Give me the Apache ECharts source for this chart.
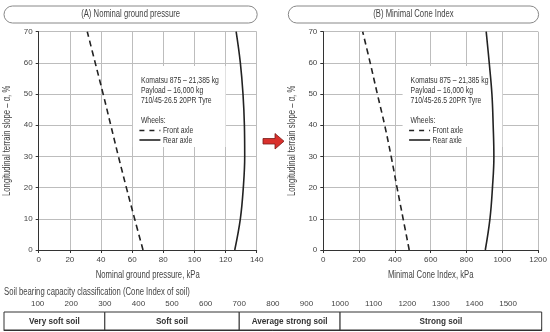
<!DOCTYPE html>
<html>
<head>
<meta charset="utf-8">
<script src="https://cdn.jsdelivr.net/npm/echarts@6/dist/echarts.min.js"></script>
<style>html,body{margin:0;padding:0;background:#fff}#c{width:550px;height:332px}</style>
</head>
<body>
<div id="c"></div>
<script>
// ---- data ----
var slope = [0, 10, 20, 30, 40, 50, 60, 70];
var ngpFront = [67, 61.6, 56.3, 51.2, 46.3, 41.4, 36.3, 31.2];
var ngpRear = [125.9, 129.5, 131.4, 132.3, 132.1, 131.2, 129.5, 126.8];
var mciFront = [480, 446, 412, 379, 343, 302, 262, 220];
var mciRear = [905, 931, 945, 953, 949, 942, 927, 910];
var soilBounds = [0, 300, 700, 1000, 1600];
var soilClasses = ['Very soft soil', 'Soft soil', 'Average strong soil', 'Strong soil'];
var panelTitles = ['(A) Nominal ground pressure', '(B) Minimal Cone Index'];
var xNames = ['Nominal ground pressure, kPa', 'Minimal Cone Index, kPa'];
var yName = 'Longitudinal terrain slope \u2013 \u03b1, %';
var infoLines = ['Komatsu 875 \u2013 21,385 kg', 'Payload \u2013 16,000 kg', '710/45-26.5 20PR Tyre'];
var legendNames = ['Front axle', 'Rear axle'];

var FONT = '"Liberation Sans", Arial, sans-serif';
var TXT = '#444';
var SX = 0.77; // condensed look

function pairs(xs, ys) { return xs.map(function (x, i) { return [x, ys[i]]; }); }

var chart = echarts.init(document.getElementById('c'), null, { renderer: 'canvas' });

function xAx(idx, max, interval) {
  return {
    gridIndex: idx, type: 'value', min: 0, max: max, interval: interval,
    axisLine: { show: true, lineStyle: { color: '#333', width: 1 } },
    axisTick: { show: true, length: 3, lineStyle: { color: '#333' } },
    axisLabel: { color: TXT, fontSize: 8, fontFamily: FONT, margin: 6,
      formatter: function (v) { return String(v); } },
    splitLine: { show: true, lineStyle: { color: '#bdbdbd', width: 1 } }
  };
}
function yAx(idx) {
  return {
    gridIndex: idx, type: 'value', min: 0, max: 70, interval: 10,
    axisLine: { show: true, lineStyle: { color: '#333', width: 1 } },
    axisTick: { show: true, length: 3, lineStyle: { color: '#333' } },
    axisLabel: { color: TXT, fontSize: 8, fontFamily: FONT, margin: 6 },
    splitLine: { show: true, lineStyle: { color: '#bdbdbd', width: 1 } }
  };
}
function lineSeries(idx, xs, dashed) {
  return {
    type: 'line', xAxisIndex: idx, yAxisIndex: idx, data: pairs(xs, slope),
    smooth: 0.4, symbol: 'none', z: 5,
    lineStyle: { color: '#222', width: 1.6, type: dashed ? [6, 4] : 'solid' }
  };
}

var option = {
  animation: false,
  backgroundColor: '#fff',
  grid: [
    { left: 38.7, right: 293.3, top: 31.7, bottom: 82 },
    { left: 323.3, right: 8.3, top: 31.7, bottom: 82 },
    { left: 4, right: 8.3, top: 312, height: 18 }
  ],
  xAxis: [
    xAx(0, 140, 20), xAx(1, 1200, 200),
    {
      gridIndex: 2, type: 'value', min: 0, max: 1600, interval: 100, position: 'top',
      axisLine: { show: true, lineStyle: { color: '#333', width: 1 } },
      axisTick: { show: true, length: 3, lineStyle: { color: '#333' } },
      axisLabel: { color: TXT, fontSize: 8, fontFamily: FONT, margin: 4,
        formatter: function (v) { return (v === 0 || v === 1600) ? '' : String(v); } },
      splitLine: { show: false }
    }
  ],
  yAxis: [yAx(0), yAx(1),
    { gridIndex: 2, type: 'value', min: 0, max: 1, show: false }
  ],
  series: [
    lineSeries(0, ngpFront, true), lineSeries(0, ngpRear, false),
    lineSeries(1, mciFront, true), lineSeries(1, mciRear, false),
    {
      type: 'custom', xAxisIndex: 2, yAxisIndex: 2,
      data: soilClasses.map(function (n, i) { return [soilBounds[i], soilBounds[i + 1], n]; }),
      renderItem: function (params, api) {
        var p0 = api.coord([api.value(0), 1]);
        var p1 = api.coord([api.value(1), 0]);
        return {
          type: 'group', children: [
            { type: 'rect', shape: { x: p0[0], y: p0[1], width: p1[0] - p0[0], height: p1[1] - p0[1] },
              style: { fill: '#fff', stroke: '#333', lineWidth: 1 } },
            { type: 'text', x: (p0[0] + p1[0]) / 2, y: (p0[1] + p1[1]) / 2, scaleX: 0.86,
              style: { text: soilClasses[params.dataIndex], fill: '#333', fontSize: 9.5, fontWeight: 'bold',
                fontFamily: FONT, align: 'center', verticalAlign: 'middle' } }
          ]
        };
      }
    }
  ]
};
chart.setOption(option);

var g = [];
function T(x, y, text, o) {
  o = o || {};
  return { type: 'text', z: o.z || 2, x: x, y: y, scaleX: o.sx || SX, rotation: o.rot || 0,
    style: { text: text, fill: o.fill || '#333', fontSize: o.size || 9.5, fontFamily: FONT,
      align: o.align || 'left', verticalAlign: 'middle', fontWeight: o.weight || 'normal' } };
}
function panelDecor(idx, xmax, boxX0, boxX1) {
  var tl = chart.convertToPixel({ gridIndex: idx }, [0, 70]);
  var br = chart.convertToPixel({ gridIndex: idx }, [xmax, 0]);
  // title pill
  var tx0 = idx === 0 ? 4 : 288.3;
  var tx1 = br[0] + 0.5;
  g.push({ type: 'rect', shape: { x: tx0, y: 6, width: tx1 - tx0, height: 17, r: 8.5 },
    style: { fill: '#fff', stroke: '#888', lineWidth: 1 } });
  g.push(T((tx0 + tx1) / 2, 14.5, panelTitles[idx], { fill: TXT, align: 'center', size: 10 }));
  // axis names
  g.push(T((tl[0] + br[0]) / 2, 275, xNames[idx], { fill: TXT, align: 'center', size: 10 }));
  g.push(T(tl[0] - 31, (tl[1] + br[1]) / 2, yName, { fill: TXT, align: 'center', size: 10, rot: Math.PI / 2 }));
  // info box (white, hides grid)
  var a = chart.convertToPixel({ gridIndex: idx }, [boxX0, 59]);
  var b = chart.convertToPixel({ gridIndex: idx }, [boxX1, 33]);
  g.push({ type: 'rect', z: 1, shape: { x: a[0], y: a[1], width: b[0] - a[0], height: b[1] - a[1] },
    style: { fill: '#fff' } });
  var tx = a[0] + 8;
  infoLines.forEach(function (t, i) { g.push(T(tx, 80.5 + i * 10, t, { sx: 0.72 })); });
  g.push(T(tx, 120.5, 'Wheels:', { sx: 0.72 }));
  g.push({ type: 'line', z: 2, shape: { x1: tx - 1.5, y1: 130.5, x2: tx + 19.5, y2: 130.5 },
    style: { stroke: '#222', lineWidth: 1.6, lineDash: [5, 5] } });
  g.push({ type: 'line', z: 2, shape: { x1: tx - 1.5, y1: 140, x2: tx + 19.5, y2: 140 },
    style: { stroke: '#222', lineWidth: 1.6 } });
  legendNames.forEach(function (t, i) { g.push(T(tx + 22, 130.5 + i * 9.5, t, { sx: 0.72 })); });
}
panelDecor(0, 140, 60.5, 120);
panelDecor(1, 1200, 443, 1000);

// soil classification heading
g.push(T(4, 292, 'Soil bearing capacity classification (Cone Index of soil)', { fill: TXT, size: 10 }));

// red arrow between panels
g.push({ type: 'polygon', shape: { points: [[263, 138.5], [275, 138.5], [275, 133.5], [284, 141.2], [275, 149], [275, 144], [263, 144]] },
  style: { fill: '#d9302c', stroke: '#7a1a18', lineWidth: 0.8 } });

chart.setOption({ graphic: { elements: g } });
</script>
</body>
</html>
